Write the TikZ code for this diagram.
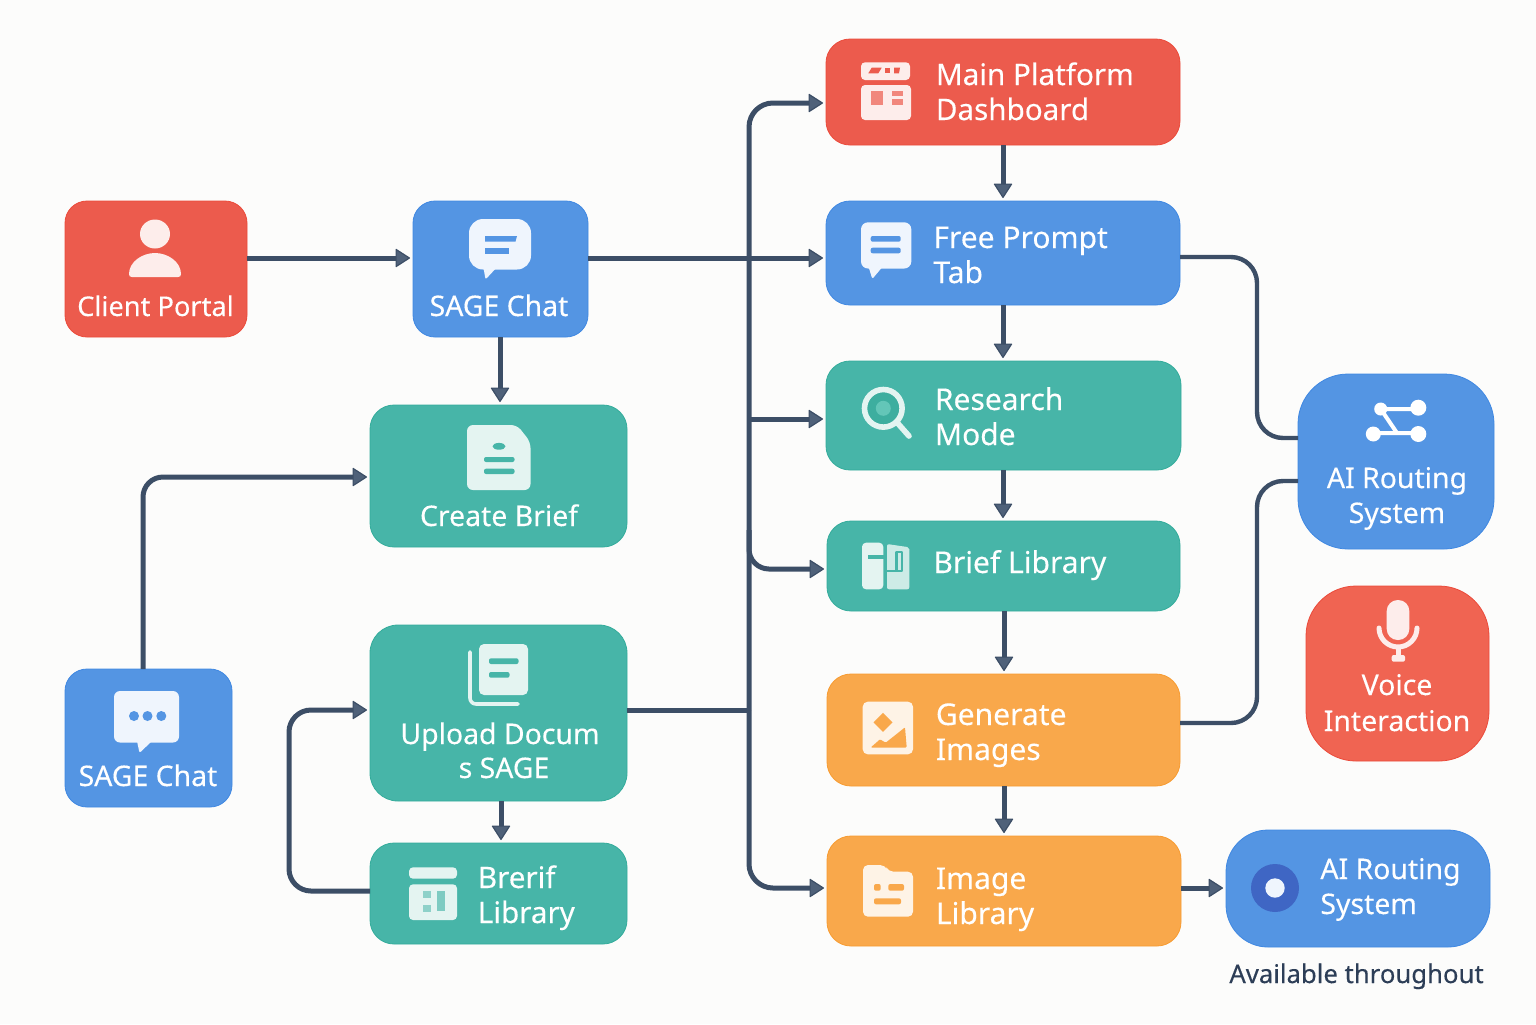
\documentclass[tikz,border=0pt]{standalone}
\usepackage{fontspec}
\setmainfont{Noto Sans}[FakeBold=0.2]
\usetikzlibrary{arrows.meta}
\definecolor{pagebg}{HTML}{FCFCFB}
\definecolor{redfill}{HTML}{EC5B4D}
\definecolor{rededge}{HTML}{EB4A3A}
\definecolor{voicefill}{HTML}{F06452}
\definecolor{bluefill}{HTML}{5495E3}
\definecolor{blueedge}{HTML}{3F88E2}
\definecolor{tealfill}{HTML}{47B5A8}
\definecolor{tealedge}{HTML}{33AC9B}
\definecolor{orangefill}{HTML}{F9A84B}
\definecolor{orangeedge}{HTML}{F79B30}
\definecolor{wirecol}{HTML}{3C4E66}
\definecolor{tipcol}{HTML}{4F6179}
\definecolor{noteink}{HTML}{2D3E57}
\definecolor{redicon}{HTML}{FDEDEB}
\definecolor{blueicon}{HTML}{EFF5FD}
\definecolor{tealicon}{HTML}{E4F4F1}
\definecolor{orangeicon}{HTML}{FEF3E6}
\definecolor{dotblue}{HTML}{3F66C4}
\definecolor{lensdark}{HTML}{3DAE9F}
\definecolor{lenslight}{HTML}{63C6B8}
\tikzset{
  box/.style={draw,line width=0.4pt,inner sep=0pt,outer sep=0pt,rounded corners=#1},
  box/.default=11pt,
  redbox/.style={box=#1,fill=redfill,draw=rededge},
  redbox/.default=11pt,
  bluebox/.style={box=#1,fill=bluefill,draw=blueedge},
  bluebox/.default=11pt,
  tealbox/.style={box=#1,fill=tealfill,draw=tealedge},
  tealbox/.default=12pt,
  orangebox/.style={box=#1,fill=orangefill,draw=orangeedge},
  orangebox/.default=11pt,
  wire/.style={draw=wirecol,line width=2.5pt},
  flow/.style={wire,-{Triangle[length=7.5pt,width=9.5pt,fill=tipcol,line width=0.6pt,round]},shorten >=1.5pt},
  smalltext/.style={text=white,inner sep=0pt,font=\fontsize{14.2}{17.5}\selectfont,align=center},
  bigtext/.style={text=white,inner sep=0pt,font=\fontsize{15}{17.5}\selectfont,align=left}
}
\begin{document}
\begin{tikzpicture}[x=0.5pt,y=-0.5pt,line join=round]
\useasboundingbox (0,0) rectangle (1536,1024);
\fill[pagebg] (0,0) rectangle (1536,1024);

% left column
\node[redbox,minimum width=91pt,minimum height=68pt] (client) at (156,269) {};
\node[bluebox,minimum width=87.5pt,minimum height=68pt] (sagetop) at (500.5,269) {};
\node[tealbox,minimum width=128.5pt,minimum height=71pt] (create) at (498.5,476) {};
\node[bluebox,minimum width=83.5pt,minimum height=69pt] (sagelow) at (148.5,738) {};
\node[tealbox=14pt,minimum width=128.5pt,minimum height=88pt] (upload) at (498.5,713) {};
\node[tealbox,minimum width=128.5pt,minimum height=50.5pt] (brerif) at (498.5,893.5) {};

% right column
\node[redbox=12pt,minimum width=177pt,minimum height=53pt] (main) at (1003,92) {};
\node[bluebox=12pt,minimum width=177pt,minimum height=52pt] (free) at (1003,253) {};
\node[tealbox,minimum width=177.5pt,minimum height=54.5pt] (research) at (1003.5,415.5) {};
\node[tealbox,minimum width=176.5pt,minimum height=45pt] (brieflib) at (1003.5,566) {};
\node[orangebox=12pt,minimum width=176.5pt,minimum height=56pt] (generate) at (1003.5,730) {};
\node[orangebox=12pt,minimum width=177pt,minimum height=55pt] (imagelib) at (1004,891) {};

% far right
\node[bluebox=25pt,minimum width=98pt,minimum height=87.5pt] (routing) at (1396,461.5) {};
\node[box=25pt,fill=voicefill,draw=rededge,minimum width=91.5pt,minimum height=87.5pt] (voice) at (1397.5,673.5) {};
\node[bluebox=21pt,minimum width=132pt,minimum height=58.5pt] (routinglow) at (1358,888.5) {};

% connectors
\coordinate (busjoin) at (749,710);
\draw[flow] (client.east |- 0,258) -- (sagetop.west |- 0,258);
\draw[flow] (sagetop.east |- 0,258) -- (free.west |- 0,258);
\draw[flow] (sagetop.south -| 500,0) -- (create.north -| 500,0);
\draw[flow,rounded corners=10pt] (sagelow.north -| 143,0) -- (143,477) -- (create.west |- 0,477);
\draw[flow] (upload.south -| 501,0) -- (brerif.north -| 501,0);
\draw[flow,rounded corners=11pt] (brerif.west |- 0,891) -- (289,891) -- (289,710) -- (upload.west |- 0,710);
\draw[wire] (upload.east |- busjoin) -- (busjoin);
\draw[flow,rounded corners=12pt] (busjoin) -- (749,103) -- (main.west |- 0,103);
\draw[flow] (busjoin |- 0,419) -- (research.west |- 0,419);
\draw[flow,rounded corners=10pt] (749,530) -- (749,569) -- (brieflib.west |- 0,569);
\draw[flow,rounded corners=12pt] (busjoin) -- (749,888) -- (imagelib.west |- 0,888);
\draw[flow] (main.south -| 1003,0) -- (free.north -| 1003,0);
\draw[flow] (free.south -| 1003,0) -- (research.north -| 1003,0);
\draw[flow] (research.south -| 1003,0) -- (brieflib.north -| 1003,0);
\draw[flow] (brieflib.south -| 1004,0) -- (generate.north -| 1004,0);
\draw[flow] (generate.south -| 1004,0) -- (imagelib.north -| 1004,0);
\draw[flow] (imagelib.east |- 0,888) -- (routinglow.west |- 0,888);
\draw[wire,line width=2.2pt,rounded corners=13pt] (free.east |- 0,257) -- (1257,257) -- (1257,438) -- (routing.west |- 0,438);
\draw[wire,line width=2.2pt,rounded corners=13pt] (generate.east |- 0,723) -- (1257,723) -- (1257,481) -- (routing.west |- 0,481);

% texts
\node[smalltext,anchor=base,font=\fontsize{13.6}{17.5}\selectfont] (clienttext) at (155.5,316) {Client Portal};
\node[smalltext,anchor=base] (sagetoptext) at (499,316) {SAGE Chat};
\node[smalltext,anchor=base] (createtext) at (499,526) {Create Brief};
\node[smalltext,anchor=base] (sagelowtext) at (148,786) {SAGE Chat};
\node[smalltext,anchor=base] (uploadtext) at (500,744) {Upload Docum};
\node[smalltext,anchor=base] (uploadtexttwo) at (504,778) {s SAGE};
\node[bigtext,anchor=base west,font=\fontsize{14.8}{17.5}\selectfont] (breriftext) at (477.5,923) {Brerif\\Library};
\node[bigtext,anchor=base west,font=\fontsize{14.8}{17.5}\selectfont] (maintext) at (935.5,120) {Main Platform\\Dashboard};
\node[bigtext,anchor=base west] (freetext) at (933,283) {Free Prompt\\Tab};
\node[bigtext,anchor=base west] (researchtext) at (934.5,445) {Research\\Mode};
\node[bigtext,anchor=base west] (brieflibtext) at (933,573) {Brief Library};
\node[bigtext,anchor=base west] (generatetext) at (935.5,760) {Generate\\Images};
\node[bigtext,anchor=base west] (imagelibtext) at (935.5,924) {Image\\Library};
\node[smalltext,anchor=base] (routingtext) at (1397,523) {AI Routing\\System};
\node[smalltext,anchor=base] (voicetext) at (1397,731) {Voice\\[0.5pt]Interaction};
\node[smalltext,anchor=base west,align=left] (routinglowtext) at (1320,914) {AI Routing\\System};
\node[text=noteink,inner sep=0pt,anchor=base west,font=\fontsize{12.85}{16}\selectfont] (notetext) at (1229,983) {Available throughout};

% icons, left column
\fill[redicon] (155,234) ellipse (15 and 14.5);
\fill[redicon] (129,274) .. controls (129,262) and (142,253) .. (155,253) .. controls (168,253) and (181,262) .. (181,274) .. controls (181,276) and (180,277) .. (178,277) -- (132,277) .. controls (130,277) and (129,276) .. (129,274) -- cycle;

\fill[blueicon,rounded corners=7pt] (469,219) rectangle (531,269.5);
\fill[blueicon,rounded corners=1pt] (483,265) -- (485.5,279.5) -- (499,265) -- cycle;
\fill[bluefill] (485,236) -- (517,236) -- (515.5,241.5) -- (485,241.5) -- cycle;
\fill[bluefill] (485,248) rectangle (509,253.5);

\fill[tealicon,rounded corners=3pt] (467,425) -- (517,425) -- (530.5,442) -- (530.5,490) -- (467,490) -- cycle;
\fill[tealfill] (499,446.3) ellipse (6.5 and 3.4);
\fill[tealfill,rounded corners=1pt] (484,457) rectangle (514.5,462);
\fill[tealfill,rounded corners=1pt] (484,468.7) rectangle (514.5,474);

\fill[blueicon,rounded corners=3pt] (114,691) rectangle (179,742.5);
\fill[blueicon,rounded corners=1pt] (136.8,740) -- (139.5,753) -- (153,740) -- cycle;
\foreach \dotx in {134,147.5,161.3}
  \fill[bluefill] (\dotx,716) circle (5);

\draw[tealicon,line width=1.8pt,line cap=round,rounded corners=3pt] (470,652) -- (470,704) -- (518,704);
\fill[tealicon,rounded corners=2.5pt] (479,644) rectangle (528,695);
\fill[tealfill,rounded corners=1pt] (489,658.3) rectangle (518.5,664);
\fill[tealfill,rounded corners=1pt] (489,672) rectangle (509.5,677.7);

\fill[tealicon,rounded corners=2pt] (409,867.3) rectangle (457,878.7);
\fill[tealicon,rounded corners=2pt] (409,884.3) rectangle (457,920);
\fill[tealfill!55!tealicon] (422.7,891) rectangle (431,897.7);
\fill[tealfill!55!tealicon] (422.7,905) rectangle (431,911.7);
\fill[tealfill!65!tealicon] (437,891) rectangle (444.5,911);

% icons, right column
\fill[redicon,rounded corners=2pt] (861,62.3) rectangle (910,80);
\fill[redicon,rounded corners=2pt] (861,85) rectangle (911,120);
\fill[redfill] (868.3,73.3) -- (871.7,67.7) -- (881.7,67.7) -- (878.3,73.3) -- cycle;
\fill[redfill] (885,67.7) rectangle (890,73.3);
\fill[redfill] (894,67.7) -- (900,67.7) -- (899,73.3) -- (894,73.3) -- cycle;
\fill[redfill!70!redicon] (871,91) rectangle (882.7,105);
\fill[redfill!70!redicon] (892.3,91) rectangle (903.3,95.7);
\fill[redfill!70!redicon] (892.3,99.3) rectangle (903.3,105);

\fill[blueicon,rounded corners=3.5pt] (861,222.3) rectangle (911.3,268.5);
\fill[blueicon,rounded corners=1pt] (868,265) -- (872.3,279) -- (884,265) -- cycle;
\fill[bluefill,rounded corners=1pt] (870.7,236) rectangle (900.7,241.7);
\fill[bluefill,rounded corners=1pt] (870.7,247.7) rectangle (900.7,253.3);

\fill[lensdark] (883.3,408.3) circle (18);
\fill[lenslight] (883.3,408.3) circle (7.5);
\draw[tealicon,line width=2.8pt] (883.3,408.3) circle (18.8);
\draw[tealicon,line width=2.8pt,line cap=round] (897.5,423) -- (909,436);

\fill[tealicon,rounded corners=2pt] (862,589.3) -- (862,542.7) -- (883.3,542.7) -- (883.3,589.3) -- cycle;
\fill[tealfill] (868,555) rectangle (883.5,559);
\fill[tealicon!85!tealfill,rounded corners=1pt] (887,544) -- (909.3,547.3) -- (909.3,589.3) -- (887,589.3) -- cycle;
\draw[tealfill,line width=1.2pt] (887,571) -- (902,571) -- (902,552) -- (896.5,552) -- (896.5,571);

\fill[orangeicon,rounded corners=2.5pt] (862.7,701.7) rectangle (913,754.3);
\fill[orangefill] (883,712.8) -- (892.5,722.3) -- (883,731.8) -- (873.5,722.3) -- cycle;
\fill[orangefill,rounded corners=0.5pt] (870.7,747.5) -- (880,739.3) -- (885.7,742.7) -- (905,727.3) -- (906.7,747.5) -- cycle;

\fill[orangeicon,rounded corners=2.5pt] (863,865) -- (885,865) -- (888.5,871.7) -- (913,871.7) -- (913,916.7) -- (863,916.7) -- cycle;
\fill[orangefill,rounded corners=1pt] (874,884) rectangle (880.7,890.7);
\fill[orangefill,rounded corners=1pt] (888.3,884) rectangle (904,890.7);
\fill[orangefill,rounded corners=1pt] (874,898.3) rectangle (901,904.3);

% icons, far right
\draw[white,line width=2pt] (1380.7,409) -- (1418.3,409) (1380.7,409) -- (1397,433) (1373.3,433) -- (1418.3,433);
\fill[white] (1380.7,409) circle (6.5);
\fill[white] (1418.3,407.7) circle (8);
\fill[white] (1373.3,434) circle (7.5);
\fill[white] (1418.3,434) circle (8);

\fill[redicon,rounded corners=5.5pt] (1386.7,600) rectangle (1409.3,640);
\draw[redicon,line width=2.5pt,line cap=round] (1379,628) arc[start angle=180,end angle=0,radius=19];
\fill[redicon] (1395.5,648) rectangle (1400.5,656);
\fill[redicon,rounded corners=1pt] (1391.7,655) rectangle (1405,661.7);

\fill[dotblue] (1275,888) circle (24);
\fill[blueicon] (1275,888) circle (9.7);

\end{tikzpicture}
\end{document}
